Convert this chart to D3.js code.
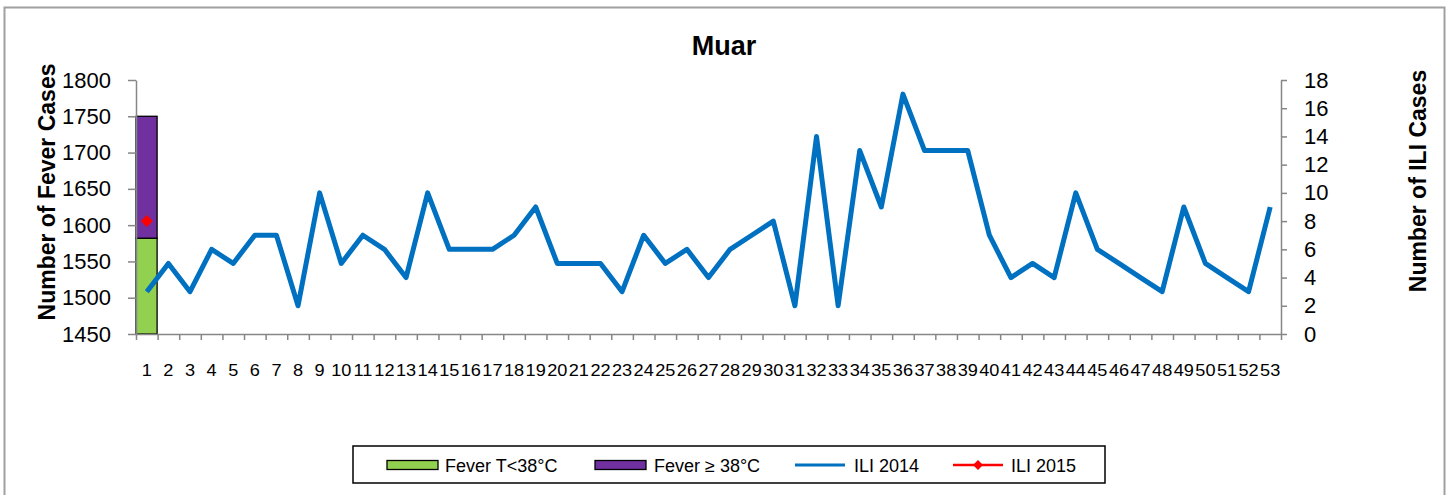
<!DOCTYPE html>
<html>
<head>
<meta charset="utf-8">
<script src="https://cdn.jsdelivr.net/npm/d3@7"></script>
<style>
  html, body { margin: 0; padding: 0; background: #fff; }
  svg { display: block; font-family: Arial, "Liberation Sans", sans-serif; }
</style>
</head>
<body>
<svg id="chart" width="1453" height="495"></svg>
<script>
// ---- data ----
const weeks = d3.range(1, 54).map(String);
const feverBelow38 = [1582];          // week 1 only
const feverAbove38 = [168];           // stacked on top (1582 + 168 = 1750)
const ili2014 = [3,5,3,6,5,7,7,2,10,5,7,6,4,10,6,6,6,7,9,5,5,5,3,7,5,6,4,6,7,8,2,14,2,13,9,17,13,13,13,7,4,5,4,10,6,5,4,3,9,5,4,3,9];
const ili2015 = [8];
const leftTicks = [1450,1500,1550,1600,1650,1700,1750,1800];
const rightTicks = [0,2,4,6,8,10,12,14,16,18];
const title = "Muar";
const leftTitle = "Number of Fever Cases";
const rightTitle = "Number of ILI Cases";
const legendLabels = ["Fever T<38°C", "Fever \u2265 38°C", "ILI 2014", "ILI 2015"];

const colors = { green: "#92D050", purple: "#7030A0", blue: "#0070C0", red: "#FF0000", axis: "#868686" };

const svg = d3.select("#chart");
const L = 136, R = 1281, T = 80, B = 334;

// outer frame
svg.append("rect").attr("x", 4.5).attr("y", 7.5).attr("width", 1440).attr("height", 520)
  .attr("fill", "none").attr("stroke", "#a0a0a0").attr("stroke-width", 2);

const x = d3.scaleBand().domain(weeks).range([L, R]).paddingInner(0).paddingOuter(0);
const xEdge = d3.scaleLinear().domain([0, weeks.length]).range([L, R]);
const yL = d3.scaleLinear().domain([1450, 1800]).range([B, T]);
const yR = d3.scaleLinear().domain([0, 18]).range([B, T]);

// bars (stacked)
const bw = x.bandwidth();
feverBelow38.forEach((v, i) => {
  const x0 = x(weeks[i]);
  svg.append("rect").attr("x", x0).attr("y", yL(v)).attr("width", bw - 0.5).attr("height", yL(1450) - yL(v))
    .attr("fill", colors.green).attr("stroke", "#000").attr("stroke-width", 1.3);
  const top = v + feverAbove38[i];
  svg.append("rect").attr("x", x0).attr("y", yL(top)).attr("width", bw - 0.5).attr("height", yL(v) - yL(top))
    .attr("fill", colors.purple).attr("stroke", "#000").attr("stroke-width", 1.3);
});

// axes
function styleAxis(g) {
  g.select(".domain").attr("stroke", colors.axis).attr("stroke-width", 1.5);
  g.selectAll(".tick line").attr("stroke", colors.axis).attr("stroke-width", 1.5);
  g.selectAll("text").attr("fill", "#000");
}
svg.append("g").attr("transform", `translate(${L},0)`)
  .call(d3.axisLeft(yL).tickValues(leftTicks).tickFormat(d3.format("d")).tickSize(8).tickSizeOuter(0).tickPadding(17))
  .call(styleAxis)
  .call(g => g.selectAll("text").attr("font-size", 22).attr("font-family", "Arial, 'Liberation Sans', sans-serif"));

svg.append("g").attr("transform", `translate(${R},0)`)
  .call(d3.axisRight(yR).tickValues(rightTicks).tickFormat(d3.format("d")).tickSize(6).tickSizeOuter(0).tickPadding(17))
  .call(styleAxis)
  .call(g => g.selectAll("text").attr("font-size", 22).attr("font-family", "Arial, 'Liberation Sans', sans-serif"));

svg.append("g").attr("transform", `translate(0,${B})`)
  .call(d3.axisBottom(xEdge).tickValues(d3.range(0, weeks.length + 1)).tickFormat("").tickSize(6).tickSizeOuter(0))
  .call(styleAxis);

svg.append("g").attr("transform", `translate(0,${B})`)
  .call(d3.axisBottom(x).tickSize(0).tickPadding(0))
  .call(g => g.select(".domain").remove())
  .call(g => g.selectAll("text")
    .attr("font-size", 16.5).attr("fill", "#000").attr("dy", 0).attr("y", 42)
    .attr("font-family", "Arial, 'Liberation Sans', sans-serif")
    .attr("transform", "scale(1.1,1)"));

// ILI 2014 line
const line = d3.line().x((d, i) => x(weeks[i]) + bw / 2).y(d => yR(d));
svg.append("path").datum(ili2014).attr("d", line).attr("fill", "none")
  .attr("stroke", colors.blue).attr("stroke-width", 5).attr("stroke-linejoin", "round");

// ILI 2015
svg.append("path").datum(ili2015).attr("d", line).attr("fill", "none")
  .attr("stroke", colors.red).attr("stroke-width", 3);
const diamond = d3.symbol().type(d3.symbolSquare).size(72);
svg.selectAll(".d15").data(ili2015).enter().append("path")
  .attr("transform", (d, i) => `translate(${x(weeks[i]) + bw / 2},${yR(d)}) rotate(45)`)
  .attr("d", diamond).attr("fill", colors.red);

// titles
svg.append("text").attr("x", 724).attr("y", 55).attr("text-anchor", "middle")
  .attr("font-size", 27).attr("font-weight", "bold").text(title);
svg.append("text").attr("transform", "translate(55,192) rotate(-90)").attr("text-anchor", "middle")
  .attr("font-size", 23).attr("font-weight", "bold").text(leftTitle);
svg.append("text").attr("transform", "translate(1426,181) rotate(-90)").attr("text-anchor", "middle")
  .attr("font-size", 23).attr("font-weight", "bold").text(rightTitle);

// legend
const lg = svg.append("g");
lg.append("rect").attr("x", 353).attr("y", 446).attr("width", 752).attr("height", 37)
  .attr("fill", "#fff").attr("stroke", "#000").attr("stroke-width", 1.5);
const ly = 465;
const items = [
  { type: "rect", color: colors.green, x0: 387, tx: 445 },
  { type: "rect", color: colors.purple, x0: 595, tx: 654 },
  { type: "line", color: colors.blue, x0: 795, tx: 854 },
  { type: "marker", color: colors.red, x0: 953, tx: 1011 }
];
items.forEach((it, i) => {
  if (it.type === "rect") {
    lg.append("rect").attr("x", it.x0).attr("y", ly - 4.5).attr("width", 51).attr("height", 9)
      .attr("fill", it.color).attr("stroke", "#000").attr("stroke-width", 1.3);
  } else {
    lg.append("line").attr("x1", it.x0).attr("x2", it.x0 + 50).attr("y1", ly).attr("y2", ly)
      .attr("stroke", it.color).attr("stroke-width", it.type === "line" ? 3 : 2.5);
    if (it.type === "marker") {
      lg.append("path").attr("transform", `translate(${it.x0 + 25},${ly}) rotate(45)`)
        .attr("d", d3.symbol().type(d3.symbolSquare).size(50)).attr("fill", it.color);
    }
  }
  lg.append("text").attr("x", it.tx).attr("y", ly + 7).attr("font-size", 18).text(legendLabels[i]);
});
</script>
</body>
</html>
